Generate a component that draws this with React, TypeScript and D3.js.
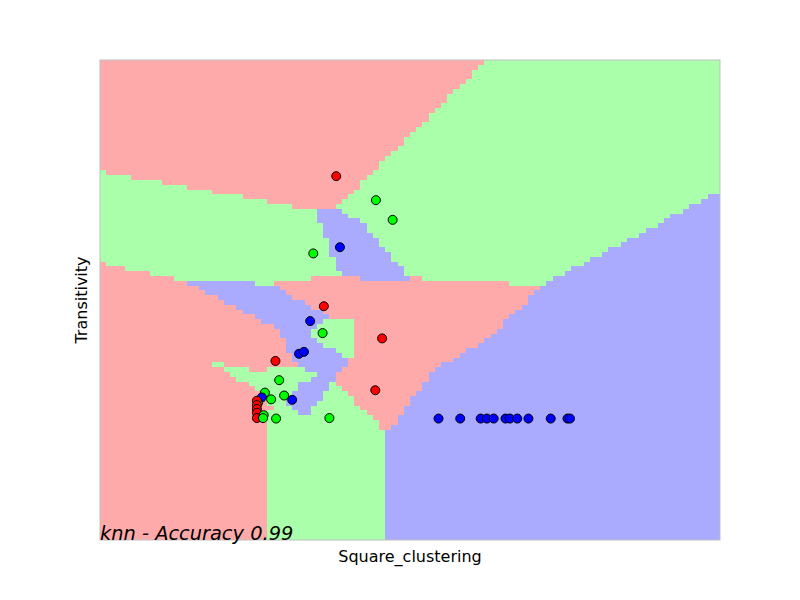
import { useMemo } from 'react'
import * as d3 from 'd3'

// points, in normalised feature units (0..1 on both axes)
const pointX = [
  0.381, 0.445, 0.472, 0.387, 0.344, 0.361, 0.339, 0.359, 0.455, 0.321,
  0.329, 0.283, 0.289, 0.444, 0.266, 0.261, 0.276, 0.297, 0.310, 0.255,
  0.253, 0.253, 0.253, 0.253, 0.253, 0.264, 0.263, 0.284, 0.370,
  0.546, 0.581, 0.614, 0.624, 0.635, 0.654, 0.661, 0.673, 0.691, 0.727, 0.754, 0.758,
]
const pointY = [
  0.758, 0.708, 0.667, 0.610, 0.597, 0.487, 0.456, 0.431, 0.420, 0.388,
  0.392, 0.373, 0.333, 0.312, 0.307, 0.297, 0.293, 0.301, 0.292, 0.286,
  0.290, 0.281, 0.273, 0.265, 0.254, 0.260, 0.254, 0.253, 0.254,
  0.253, 0.253, 0.253, 0.253, 0.253, 0.253, 0.253, 0.253, 0.253, 0.253, 0.253, 0.253,
]
// 0 = red, 1 = green, 2 = blue
const pointClass = [
  0, 1, 1, 2, 1, 0, 2, 1, 0, 2,
  2, 0, 1, 0, 1, 2, 1, 1, 2, 1,
  0, 0, 0, 0, 0, 1, 1, 1, 1,
  2, 2, 2, 2, 2, 2, 2, 2, 2, 2, 2, 2,
]
// 0 = test point (shown, not used to fit), 1 = training point
const pointTrain = [
  1, 1, 1, 1, 1, 1, 1, 1, 1, 1,
  1, 1, 1, 1, 1, 1, 1, 1, 1, 1,
  1, 1, 1, 1, 1, 0, 0, 1, 1,
  1, 1, 1, 1, 1, 1, 1, 1, 1, 1, 1, 1,
]

const lightColors = ['#FFAAAA', '#AAFFAA', '#AAAAFF']
const boldColors = ['#FF0000', '#00FF00', '#0000FF']

const K = 1
const STEP = 0.01

const train = d3.range(pointX.length).filter(i => pointTrain[i])

function predict(px: number, py: number) {
  const d = train.map(i => ({ i, d: (pointX[i] - px) ** 2 + (pointY[i] - py) ** 2 }))
  d.sort((a, b) => a.d - b.d)
  const votes = [0, 0, 0]
  d.slice(0, K).forEach(n => votes[pointClass[n.i]]++)
  return votes.indexOf(Math.max(...votes))
}

export default function App() {
  const width = 800
  const height = 600
  const x = d3.scaleLinear().domain([0, 1]).range([100, 720])
  const y = d3.scaleLinear().domain([0, 1]).range([540, 60])

  // mesh of predictions (value at each cell's lower-left corner), merged into runs
  const runs = useMemo(() => {
    const out: { x0: number; x1: number; y0: number; c: number }[] = []
    const n = Math.round(1 / STEP)
    for (let j = 0; j < n; j++) {
      const yy = j * STEP
      let start = 0
      let cur = predict(0, yy)
      for (let i = 1; i <= n; i++) {
        const c = i < n ? predict(i * STEP, yy) : -1
        if (c !== cur) {
          out.push({ x0: start * STEP, x1: i * STEP, y0: j * STEP, c: cur })
          start = i
          cur = c
        }
      }
    }
    return out
  }, [])

  const order = d3.range(pointX.length)

  return (
    <svg width={width} height={height}
      style={{ position: 'absolute', left: 0, top: 0, background: '#fff' }}
      fontFamily="DejaVu Sans">
      <g shapeRendering="crispEdges">
        {runs.map((r, k) => (
          <rect key={k}
            x={x(r.x0)} width={x(r.x1) - x(r.x0)}
            y={y(r.y0 + STEP)} height={y(r.y0) - y(r.y0 + STEP)}
            fill={lightColors[r.c]} />
        ))}
      </g>
      {order.map(i => (
        <circle key={i} cx={x(pointX[i])} cy={y(pointY[i])} r={4.5}
          fill={boldColors[pointClass[i]]} stroke="#000" strokeWidth={1} />
      ))}
      <rect x={100} y={60} width={620} height={480} fill="none" stroke="#bfbfbf" strokeWidth={1} />
      <text x={100} y={539.5} fontSize={19.4} fontStyle="italic">knn - Accuracy 0.99</text>
      <text x={410} y={562} fontSize={16} textAnchor="middle">Square_clustering</text>
      <text transform="translate(87,300) rotate(-90)" fontSize={16} textAnchor="middle">Transitivity</text>
    </svg>
  )
}
